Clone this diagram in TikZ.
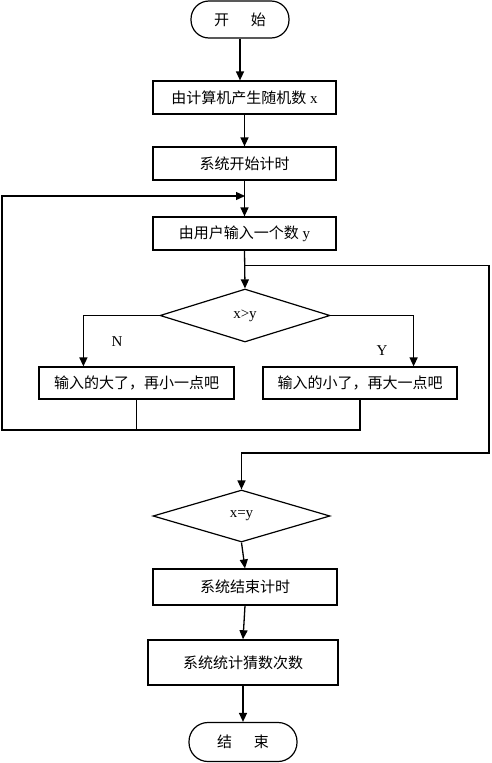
\documentclass[tikz,border=0pt]{standalone}
\usepackage{fontspec}
\setmainfont{Liberation Serif}
\newfontfamily\cjk{Noto Sans CJK SC}
\usetikzlibrary{shapes.geometric,arrows.meta,positioning,calc}

\tikzset{
    box/.style={draw, line width=1.2pt, rectangle, inner sep=0pt, minimum width=183pt, minimum height=33pt},
    decision/.style={draw, line width=1.2pt, diamond, inner sep=0pt, minimum width=170pt, minimum height=53pt},
    terminal/.style={draw, line width=1.2pt, rectangle, rounded corners=18pt, inner sep=0pt, minimum width=98pt, minimum height=37pt},
    flow/.style={line width=1.3pt, -{Triangle[length=9pt,width=8pt]}},
    wire/.style={line width=1.3pt}
}

\begin{document}
\begin{tikzpicture}[x=1pt, y=-1pt, font=\fontsize{15}{18}\selectfont]
    \useasboundingbox (0,0) rectangle (491,763);

    % Start and set-up
    \node[terminal] (start) at (240,19.5) {\cjk 开\hspace{22pt}始};
    \node[box] (rand) at (244.5,97.5) {{\cjk 由计算机产生随机数} x};
    \node[box] (timer) at (244.5,163.5) {\cjk 系统开始计时};
    \node[box] (input) at (244.5,233.5) {{\cjk 由用户输入一个数} y};

    % Compare
    \node[decision] (cmp) at (245,315.5) {x>y};
    \node[box, minimum width=195pt, minimum height=32pt] (big) at (136.5,383) {\cjk 输入的大了，再小一点吧};
    \node[box, minimum width=194pt, minimum height=32pt] (small) at (360,383) {\cjk 输入的小了，再大一点吧};
    \node (no) at (117,342) {N};
    \node (yes) at (382,351) {Y};

    % End
    \node[decision, minimum width=177pt, minimum height=52pt] (eq) at (241.5,516) {x=y};
    \node[box, minimum width=184pt, minimum height=36pt] (stop) at (245,587) {\cjk 系统结束计时};
    \node[box, minimum width=190pt, minimum height=45pt, line width=1.5pt] (count) at (243,662.5) {\cjk 系统统计猜数次数};
    \node[terminal, minimum width=108pt, minimum height=39pt, rounded corners=19pt] (finish) at (243,742) {\cjk 结\hspace{22pt}束};

    \coordinate (merge) at (245,196);
    \coordinate (back) at (2,430);
    \coordinate (side) at (489,453);

    % Main line
    \draw[flow] (start.south) -- (start.south |- rand.north);
    \draw[flow] (rand.south) -- (timer.north);
    \draw[flow] (timer.south) -- (input.north);
    \draw[flow] (input.south) -- (cmp.north);

    % Branches
    \draw[flow] (cmp.west) -| ([xshift=45pt]big.north west);
    \draw[flow] (cmp.east) -| ([xshift=-44pt]small.north east);

    % Loop back
    \draw[wire] (big.south) -- (big.south |- back);
    \draw[flow] (small.south) |- (back) |- (merge);
    \draw[flow] ($(input.south)+(0,15)$) -| (side) -| (eq.north);

    \draw[flow] (eq.south) -- (stop.north);
    \draw[flow] (stop.south) -- (count.north);
    \draw[flow] (count.south) -- (finish.north);
\end{tikzpicture}
\end{document}
